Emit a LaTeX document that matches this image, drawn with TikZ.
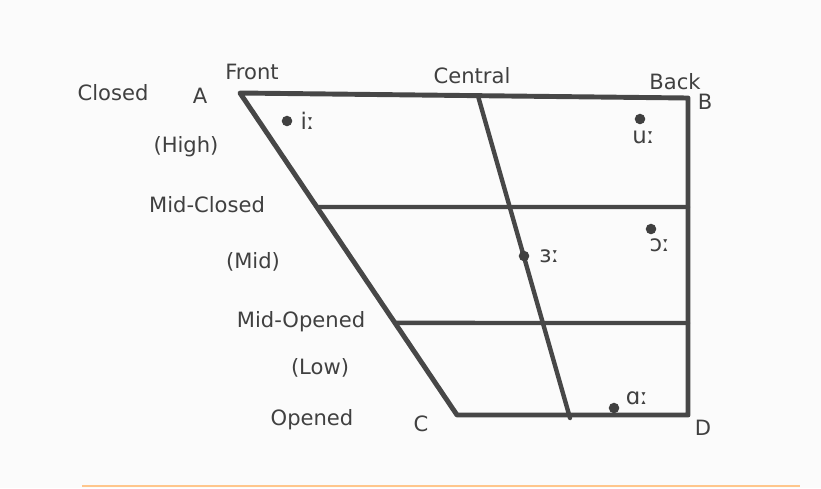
\documentclass[tikz,border=0pt]{standalone}
\usepackage{fontspec}
\setmainfont{DejaVu Sans}
\usetikzlibrary{positioning, calc}

\begin{document}
\begin{tikzpicture}[
  x=0.02cm, y=-0.02cm,
  every node/.style={font=\fontsize{12}{14}\selectfont, text=black!75},
  frame/.style={line width=2.8pt, draw=black!72, line join=round, line cap=round},
  grid/.style={line width=2.5pt, draw=black!72, line cap=round},
  dot/.style={circle, fill=black!75, inner sep=0pt, minimum size=6pt},
  vow/.style={font=\fontsize{13}{15}\selectfont},
]
\useasboundingbox[fill=white!97!gray] (0,0) rectangle (821,488);

% Corners
\coordinate (A) at (240,93);
\coordinate (B) at (688,98);
\coordinate (D) at (688,415);
\coordinate (C) at (457,415);

% Outline
\draw[frame] (A) -- (B) -- (D) -- (C) -- cycle;

% Horizontal lines
\coordinate (mcl) at ($(A)!0.354!(C)$);
\coordinate (mcr) at (688,207);
\coordinate (mol) at ($(A)!0.714!(C)$);
\coordinate (mor) at (688,323);
\draw[grid] (mcl) -- (mcr);
\draw[grid] (mol) -- (mor);

% Central line
\coordinate (ct) at (478,96);
\coordinate (cb) at (570,418);
\draw[grid] (ct) -- (cb);

% Corner letters
\node (la) at (200,96) {A};
\node (lb) at (705,102) {B};
\node (lc) at (421,424) {C};
\node (ld) at (703,428) {D};

% Column labels
\node (front) at (252,72) {Front};
\node (central) at (472,76) {Central};
\node (back) at (675,82) {Back};

% Row labels
\node (closed) at (113,93) {Closed};
\node (high) at (186,147) {(High)};
\node (midc) at (207,205) {Mid-Closed};
\node (mid) at (253,262) {(Mid)};
\node (mido) at (301,322) {Mid-Opened};
\node (low) at (320,368) {(Low)};
\node (opened) at (312,420) {Opened};

% Vowels
\node[dot] (d1) at (287,121) {};
\node[vow, right=1pt of d1] (v1) {iː};
\node[dot] (d2) at (640,119) {};
\node[vow, below=0pt of d2, xshift=2pt] (v2) {uː};
\node[dot] (d3) at (651,229) {};
\node[vow, below=-1pt of d3, xshift=5pt] (v3) {ɔː};
\node[dot] (d4) at (524,256) {};
\node[vow, right=2pt of d4] (v4) {ɜː};
\node[dot] (d5) at (614,408) {};
\node[vow, above right=-4pt and 1pt of d5] (v5) {ɑː};

% Bottom rule
\coordinate (rl) at (82,486);
\coordinate (rr) at (800,486);
\draw[line width=1.2pt, draw=orange!45] (rl) -- (rr);
\end{tikzpicture}
\end{document}
